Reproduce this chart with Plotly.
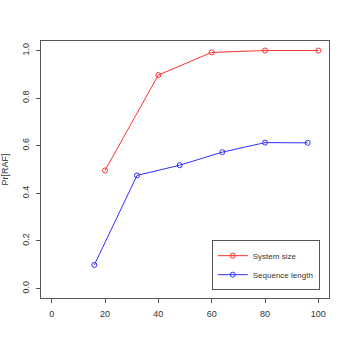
import plotly.graph_objects as go

# System size series
size_x = [20, 40, 60, 80, 100]
size_y = [0.496, 0.897, 0.992, 1.0, 1.0]

# Sequence length series
seq_x = [16, 32, 48, 64, 80, 96]
seq_y = [0.099, 0.475, 0.518, 0.573, 0.613, 0.612]

x_ticks = [0, 20, 40, 60, 80, 100]
y_ticks = [0.0, 0.2, 0.4, 0.6, 0.8, 1.0]
y_tick_labels = ["0.0", "0.2", "0.4", "0.6", "0.8", "1.0"]

fig = go.Figure()

fig.add_trace(
    go.Scatter(
        x=size_x,
        y=size_y,
        name="System size",
        mode="lines+markers",
        line=dict(color="#ff3030", width=1),
        marker=dict(symbol="circle-open", size=5, color="#ff3030", line=dict(width=1)),
    )
)
fig.add_trace(
    go.Scatter(
        x=seq_x,
        y=seq_y,
        name="Sequence length",
        mode="lines+markers",
        line=dict(color="#3030ff", width=1),
        marker=dict(symbol="circle-open", size=5, color="#3030ff", line=dict(width=1)),
    )
)

axis_common = dict(
    showgrid=False,
    zeroline=False,
    showline=True,
    linecolor="#555",
    linewidth=1,
    mirror=True,
    ticks="outside",
    ticklen=4,
    tickcolor="#555",
    automargin=False,
    ticklabelstandoff=3,
    tickfont=dict(family="Liberation Sans, Arial", size=9, color="#333"),
)

fig.update_layout(
    width=350,
    height=350,
    margin=dict(l=41, r=21, t=41, b=52, autoexpand=False),
    paper_bgcolor="white",
    plot_bgcolor="white",
    font=dict(family="Liberation Sans, Arial", size=9, color="#333"),
    xaxis=dict(range=[-4, 104], tickvals=x_ticks, **axis_common),
    yaxis=dict(
        range=[-0.04, 1.04],
        tickvals=y_ticks,
        ticktext=y_tick_labels,
        tickangle=-90,
        title=dict(text="Pr[RAF]", standoff=12, font=dict(size=9, color="#333")),
        **axis_common,
    ),
    legend=dict(
        x=0.593,
        y=0.225,
        xanchor="left",
        yanchor="top",
        bordercolor="#555",
        borderwidth=1,
        bgcolor="white",
        font=dict(size=8, color="#333"),
        itemwidth=30,
        tracegroupgap=0,
    ),
)

# page body has a default 8px margin; drop it so the figure sits at the window corner
fig.write_html(
    "out.html",
    config={"displayModeBar": False},
    post_script="document.body.style.margin='0';",
)
